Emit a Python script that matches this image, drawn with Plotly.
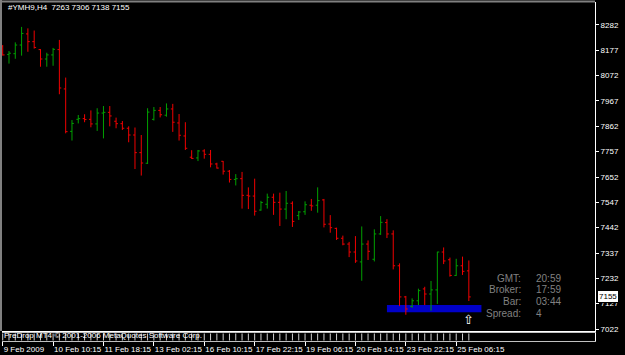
import plotly.graph_objects as go

# ---------------- data ----------------
symbol = "#YMH9,H4"

bar_open = [8192, 8160, 8163, 8199, 8245, 8213, 8180, 8141, 8158, 8180,
            8017, 7841, 7891, 7894, 7891, 7872, 7917, 7920, 7883, 7873,
            7854, 7826, 7753, 7709, 7891, 7928, 7908, 7934, 7876, 7822,
            7734, 7731, 7760, 7746, 7706, 7717, 7676, 7642, 7645, 7576,
            7573, 7515, 7539, 7568, 7547, 7519, 7543, 7492, 7508, 7535,
            7535, 7557, 7457, 7439, 7398, 7374, 7341, 7300, 7374, 7311,
            7416, 7463, 7416, 7284, 7155, 7115, 7139, 7188, 7167, 7184,
            7341, 7309, 7244, 7284, 7263]
bar_high = [8199, 8174, 8210, 8274, 8268, 8259, 8182, 8167, 8187, 8220,
            8064, 7888, 7909, 7912, 7928, 7937, 7946, 7946, 7898, 7884,
            7862, 7857, 7826, 7937, 7942, 7942, 7957, 7955, 7913, 7879,
            7763, 7764, 7767, 7764, 7711, 7718, 7681, 7664, 7673, 7609,
            7645, 7553, 7583, 7583, 7587, 7594, 7551, 7511, 7551, 7561,
            7609, 7561, 7494, 7442, 7409, 7383, 7407, 7447, 7389, 7435,
            7490, 7477, 7431, 7294, 7159, 7149, 7189, 7197, 7221, 7342,
            7360, 7318, 7313, 7322, 7306]
bar_low = [8155, 8122, 8142, 8155, 8171, 8184, 8109, 8109, 8113, 7995,
           7833, 7803, 7874, 7879, 7858, 7843, 7812, 7862, 7854, 7847,
           7796, 7685, 7658, 7706, 7886, 7899, 7902, 7839, 7803, 7764,
           7727, 7718, 7728, 7692, 7687, 7662, 7629, 7617, 7521, 7519,
           7492, 7512, 7521, 7495, 7449, 7477, 7445, 7474, 7495, 7512,
           7504, 7443, 7421, 7391, 7369, 7320, 7296, 7222, 7308, 7302,
           7412, 7399, 7269, 7117, 7081, 7110, 7121, 7121, 7098, 7126,
           7291, 7239, 7242, 7246, 7138]
bar_close = [8158, 8165, 8199, 8247, 8213, 8189, 8141, 8158, 8181, 8021,
             7840, 7874, 7894, 7890, 7872, 7917, 7920, 7905, 7873, 7854,
             7826, 7753, 7710, 7921, 7928, 7910, 7934, 7879, 7825, 7771,
             7729, 7760, 7746, 7706, 7689, 7676, 7642, 7645, 7576, 7573,
             7510, 7546, 7568, 7547, 7519, 7543, 7468, 7507, 7537, 7532,
             7554, 7456, 7442, 7398, 7374, 7341, 7304, 7374, 7344, 7416,
             7464, 7416, 7284, 7155, 7105, 7139, 7181, 7167, 7184, 7341,
             7304, 7244, 7284, 7261, 7155]

time_tick_bars = [0, 8, 16, 24, 32, 40, 48, 56, 64, 72]
time_tick_text = ["9 Feb 2009", "10 Feb 10:15", "11 Feb 18:15", "13 Feb 02:15",
                  "16 Feb 10:15", "17 Feb 22:15", "19 Feb 06:15", "20 Feb 14:15",
                  "23 Feb 22:15", "25 Feb 06:15"]
price_ticks = [8282, 8177, 8072, 7967, 7862, 7757, 7652, 7547, 7442,
               7337, 7232, 7127, 7022]

info_labels = ["GMT:", "Broker:", "Bar:", "Spread:"]
info_values = ["20:59", "17:59", "03:44", "4"]

box_start, box_end = 61, 76
box_low, box_high = 7091, 7121
arrow_bar = 74
copyright_text = "PreDrop MT4 \u00a9 2001-2006 MetaQuotes Software Corp."

# ---------------- helpers ----------------
W, H = 625, 355
def fx(p):
    return p / W
def fy(p):
    return 1 - p / H

n = len(bar_open)
idx = list(range(n))
FONT = "Liberation Sans, Arial, sans-serif"

fig = go.Figure()
fig.add_trace(go.Ohlc(
    x=idx, open=bar_open, high=bar_high, low=bar_low, close=bar_close,
    increasing=dict(line=dict(color="#00a000", width=1)),
    decreasing=dict(line=dict(color="#f00000", width=1)),
    tickwidth=0.3, xaxis="x", yaxis="y", showlegend=False, hoverinfo="skip"))

# squeezed indicator sub-window: one small mark per bar
fig.add_trace(go.Scatter(
    x=idx, y=[0] * n, mode="markers", xaxis="x2", yaxis="y2",
    marker=dict(symbol="line-ns-open", size=5, color="#d0d0d0",
                line=dict(color="#d0d0d0", width=1)),
    showlegend=False, hoverinfo="skip"))

x_dom = [fx(2), fx(595)]
x_rng = [-0.11, 94.03]

fig.update_layout(
    width=W, height=H,
    margin=dict(l=0, r=0, t=0, b=0),
    paper_bgcolor="#000000", plot_bgcolor="#000000",
    font=dict(family=FONT, color="#ffffff", size=8),
    showlegend=False,
    xaxis=dict(domain=x_dom, range=x_rng, anchor="y",
               showline=True, linecolor="#ffffff", linewidth=1,
               showticklabels=False, ticks="", showgrid=False, zeroline=False,
               rangeslider=dict(visible=False), fixedrange=True),
    yaxis=dict(domain=[fy(331), fy(2)], range=[7013.7, 8377.3], anchor="x",
               side="right", showline=True, linecolor="#ffffff", linewidth=1,
               ticks="outside", ticklen=3, tickcolor="#ffffff",
               tickvals=price_ticks, ticktext=[str(v) for v in price_ticks],
               tickfont=dict(size=8, color="#ffffff", family=FONT),
               showgrid=False, zeroline=False, automargin=False),
    xaxis2=dict(domain=x_dom, range=x_rng, matches="x", anchor="y2",
                showline=True, mirror=True, linecolor="#c0c0c0", linewidth=1,
                ticks="outside", ticklen=4, tickcolor="#ffffff",
                tickvals=time_tick_bars, ticktext=time_tick_text,
                ticklabelposition="outside right", tickangle=0,
                tickfont=dict(size=8, color="#ffffff", family=FONT),
                showgrid=False, zeroline=False,
                rangeslider=dict(visible=False), automargin=False),
    yaxis2=dict(domain=[fy(341), fy(333)], range=[-1, 1], anchor="x2",
                side="right", showline=True, linecolor="#ffffff",
                showticklabels=False, ticks="", showgrid=False,
                zeroline=False, automargin=False),
)

shapes = [
    dict(type="rect", xref="x", yref="y", x0=box_start, x1=box_end,
         y0=box_low, y1=box_high, fillcolor="#0000c8",
         line=dict(width=0), layer="below"),
    dict(type="line", xref="paper", yref="paper", x0=0, x1=fx(595),
         y0=fy(1.5), y1=fy(1.5), line=dict(color="#808080", width=2)),
    dict(type="line", xref="paper", yref="paper", x0=fx(1), x1=fx(1),
         y0=fy(331), y1=fy(0), line=dict(color="#808080", width=2)),
]
fig.update_layout(shapes=shapes)

ann = []
ann.append(dict(xref="paper", yref="paper", x=fx(6), y=fy(8),
                xanchor="left", yanchor="middle", showarrow=False,
                text=f"{symbol}  {bar_open[-1]} {bar_high[-1]} {bar_low[-1]} {bar_close[-1]}",
                font=dict(size=8, color="#ffffff", family=FONT)))
ann.append(dict(xref="paper", yref="paper", x=fx(2), y=fy(335.5),
                xanchor="left", yanchor="middle", showarrow=False,
                text=copyright_text,
                font=dict(size=8, color="#ffffff", family=FONT)))
for i, (lab, val) in enumerate(zip(info_labels, info_values)):
    yy = fy(278 + 11.7 * i)
    ann.append(dict(xref="paper", yref="paper", x=fx(523), y=yy,
                    xanchor="right", yanchor="middle", showarrow=False,
                    text=lab, font=dict(size=10, color="#808080", family=FONT)))
    ann.append(dict(xref="paper", yref="paper", x=fx(534), y=yy,
                    xanchor="left", yanchor="middle", showarrow=False,
                    text=val, font=dict(size=10, color="#808080", family=FONT)))
ann.append(dict(xref="paper", yref="y", x=fx(597), y=bar_close[-1],
                xanchor="left", yanchor="middle", showarrow=False,
                text=str(bar_close[-1]), bgcolor="#ffffff",
                bordercolor="#000000", borderpad=1,
                font=dict(size=8, color="#000000", family=FONT)))
ann.append(dict(xref="x", yref="paper", x=arrow_bar, y=fy(319),
                xanchor="center", yanchor="middle", showarrow=False,
                text="\u21e7", font=dict(size=13, color="#ffffff",
                                          family="DejaVu Sans")))
fig.update_layout(annotations=ann)

fig.write_html("out.html")
